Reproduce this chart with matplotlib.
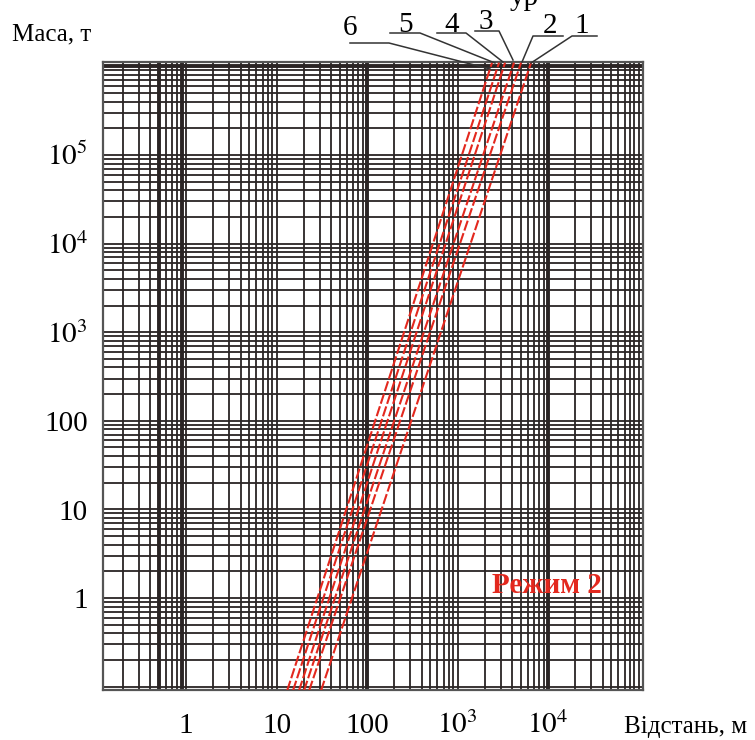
from matplotlib import pyplot as plt
from matplotlib import transforms
import numpy as np

plt.rcParams['font.family'] = ['Liberation Serif', 'DejaVu Serif']
plt.rcParams['mathtext.fontset'] = 'stix'

# межі маси для ліній (т) та відстані на цих межах (м)
masa_kinci = [0.09, 1.1e6]
liniyi = ['1', '2', '3', '4', '5', '6']
vidstan_niz = [31.0, 22.9, 20.1, 17.7, 15.2, 13.1]
vidstan_verh = [6490, 5030, 4210, 3350, 2875, 2405]

x_mitky = [1, 10, 100, 1e3, 1e4]
x_pidpysy = ['1', '10', '100', '$10^3$', '$10^4$']
y_mitky = [1, 10, 100, 1e3, 1e4, 1e5]
y_pidpysy = ['1', '10', '100', '$10^3$', '$10^4$', '$10^5$']

chervonyi = '#e3281e'
sitka = '#2a2424'

fig = plt.figure(figsize=(7.55, 7.4), dpi=100)
ax = fig.add_axes([103/755, 1-690/740, 540/755, 628/740])
ax.set_xscale('log')
ax.set_yscale('log')
ax.set_xlim(0.121, 1.12e5)
ax.set_ylim(0.0916, 1.12e6)

# логарифмічна сітка
for n in range(-1, 6):
    for k in range(1, 10):
        v = k * 10.0**n
        ax.axvline(v, color=sitka, lw=1.3, zorder=1)
for n in range(-2, 7):
    for k in range(1, 10):
        v = k * 10.0**n
        ax.axhline(v, color=sitka, lw=1.3, zorder=1)
for v in [0.5, 0.9, 100, 1e4]:
    ax.axvline(v, color=sitka, lw=2.8, zorder=1)
ax.axhline(1e6, color=sitka, lw=2.8, zorder=1)

for s in ax.spines.values():
    s.set_color('#555555')
    s.set_linewidth(1.6)
ax.set_xticks([])
ax.set_yticks([])
ax.minorticks_off()

# лінії режиму 2
for nom, r0, r1 in zip(liniyi, vidstan_niz, vidstan_verh):
    ax.plot([r0, r1], masa_kinci, color=chervonyi, lw=1.5,
            ls=(0, (5, 1.3)), zorder=3, clip_on=True)

# підписи осей
tx = transforms.blended_transform_factory(ax.transData, ax.transAxes)
for v, t in zip(x_mitky, x_pidpysy):
    ax.text(v, -0.068, t, transform=tx, ha='center', va='baseline',
            fontsize=21, clip_on=False)
ty = transforms.blended_transform_factory(ax.transAxes, ax.transData)
ty = transforms.offset_copy(ty, fig, y=-7.5, units='points')
for v, t in zip(y_mitky, y_pidpysy):
    ax.text(-0.028, v, t, transform=ty, ha='right', va='baseline',
            fontsize=21, clip_on=False)

fig.text(12/755, 1-40/740, 'Маса, т', fontsize=18, va='baseline')
fig.text(624/755, 1-733/740, 'Відстань, м', fontsize=18, va='baseline')
fig.text(510/755, 1-5/740, 'ур', fontsize=21, va='baseline')
ax.text(0.72, 0.154, 'Режим 2', transform=ax.transAxes, color=chervonyi,
        fontsize=21, fontweight='bold', va='baseline')

# номери ліній з виносками (пікселі рисунка)
vynosky = {
    '6': ([350, 389, 490], [43, 43, 69], 350, 35),
    '5': ([390, 420, 495], [33, 33, 63], 406, 32),
    '4': ([437, 466, 503], [33, 33, 62], 452, 32),
    '3': ([475, 499, 513], [31, 31, 60], 486, 29),
    '2': ([563, 533, 522], [36, 36, 62], 550, 33),
    '1': ([597, 572, 531], [36, 36, 63], 582, 33),
}
for nom in liniyi:
    xs, ys, tx0, ty0 = vynosky[nom]
    fig.add_artist(plt.Line2D(np.array(xs)/755, 1-np.array(ys)/740,
                              color='#333333', lw=1.1))
    fig.text(tx0/755, 1-ty0/740, nom, fontsize=21, ha='center', va='baseline')

fig.savefig('out.png', dpi=100, facecolor='white')
